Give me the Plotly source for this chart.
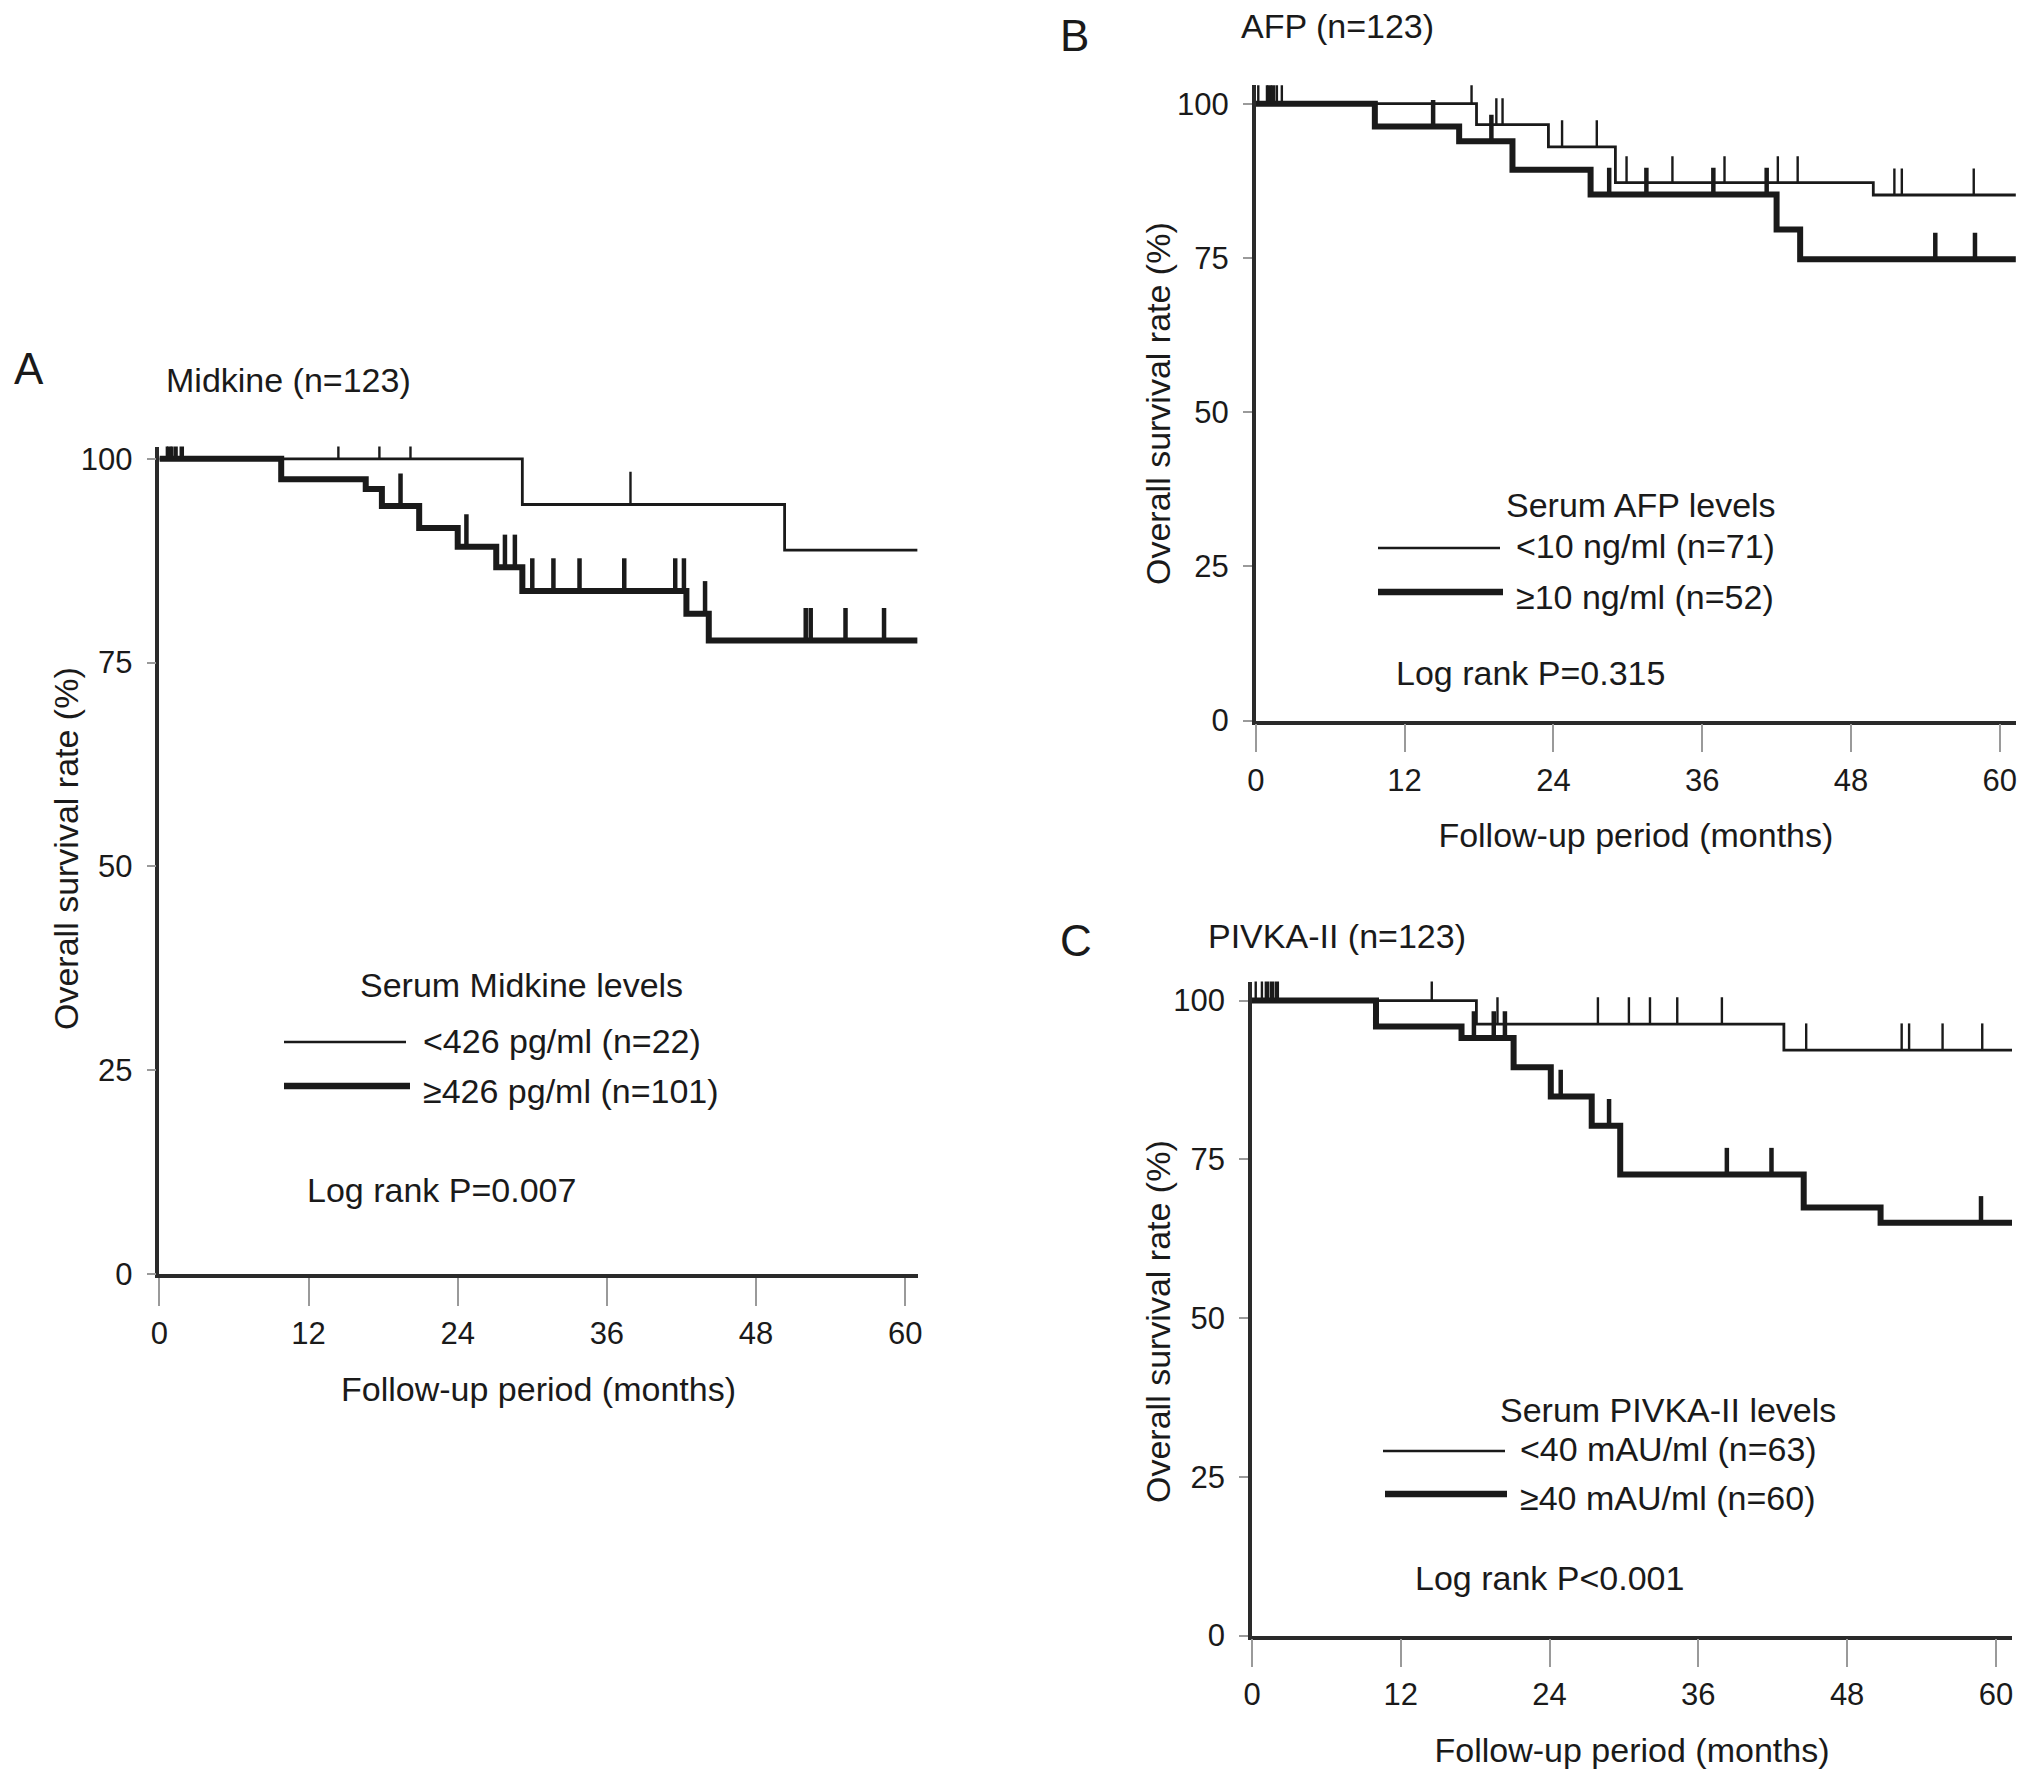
import plotly.graph_objects as go

W, H = 2032, 1771
OFF = 8  # page body margin in the browser

# ------------------------------------------
# Data (months, survival %)
# ------------------------------------------
# A - Midkine
a_low_t = [0, 29.2, 50.3, 61.0]
a_low_s = [100, 94.4, 88.8, 88.8]
a_low_cens = [0.6, 1.0, 14.4, 17.7, 20.2, 37.9]
a_high_t = [0, 9.8, 16.6, 17.9, 20.9, 24.0, 27.1, 29.2, 42.4, 44.2, 61.0]
a_high_s = [100, 97.5, 96.3, 94.2, 91.5, 89.2, 86.7, 83.8, 81.0, 77.7, 77.7]
a_high_cens = [0.8, 1.3, 1.8, 19.4, 24.7, 27.8, 28.6, 30.0, 31.7, 33.8, 37.4,
               41.5, 42.2, 43.9, 52.0, 52.4, 55.2, 58.3]

# B - AFP
b_low_t = [0, 17.8, 23.6, 29.0, 49.8, 61.3]
b_low_s = [100, 96.6, 93.0, 87.2, 85.2, 85.2]
b_low_cens = [0.2, 0.9, 1.7, 2.1, 17.4, 19.4, 19.9, 24.7, 27.5, 29.9, 33.6,
              37.8, 42.1, 43.7, 51.5, 52.1, 57.9]
b_high_t = [0, 9.6, 16.4, 20.7, 27.0, 42.0, 43.9, 61.3]
b_high_s = [100, 96.3, 93.9, 89.3, 85.3, 79.6, 74.8, 74.8]
b_high_cens = [1.1, 1.4, 14.3, 19.0, 28.5, 31.5, 36.9, 41.2, 54.8, 58.0]

# C - PIVKA-II
c_low_t = [0, 18.1, 42.9, 61.3]
c_low_s = [100, 96.3, 92.2, 92.2]
c_low_cens = [0.3, 0.8, 14.5, 19.8, 27.9, 30.4, 32.1, 34.3, 37.9, 44.7,
              52.4, 53.0, 55.7, 58.9]
c_high_t = [0, 10.0, 16.9, 21.1, 24.1, 27.4, 29.7, 44.5, 50.7, 61.3]
c_high_s = [100, 95.9, 94.1, 89.5, 84.9, 80.3, 72.6, 67.4, 65.0, 65.0]
c_high_cens = [1.2, 1.6, 2.0, 17.9, 19.5, 20.4, 24.9, 28.8, 38.3, 41.9, 58.8]

x_ticks = [0, 12, 24, 36, 48, 60]
y_ticks = [0, 25, 50, 75, 100]

FONT = "Liberation Sans"
INK = "#1a1a1a"


def px(x):
    return (x - OFF) / W


def py(y):
    return 1 - (y - OFF) / H


def level_at(t, times, surv):
    s = surv[0]
    for ti, si in zip(times, surv):
        if ti <= t:
            s = si
    return s


def cens_xy(cens, times, surv, h):
    xs, ys = [], []
    for t in cens:
        s = level_at(t, times, surv)
        xs += [t, t, None]
        ys += [s, s + h, None]
    return xs, ys


panels = [
    # key, low, high, xmax, ytop, tick height, x domain px, y domain px
    ("", (a_low_t, a_low_s, a_low_cens), (a_high_t, a_high_s, a_high_cens),
     61.0, 101.5, 4.0, (159.4, 917.6), (1274, 446.6)),
    ("2", (b_low_t, b_low_s, b_low_cens), (b_high_t, b_high_s, b_high_cens),
     61.3, 103, 4.3, (1255.8, 2015.9), (720.6, 85.2)),
    ("3", (c_low_t, c_low_s, c_low_cens), (c_high_t, c_high_s, c_high_cens),
     61.3, 103, 4.2, (1252, 2012), (1635.5, 981.5)),
]

fig = go.Figure()
layout_axes = {}

for key, low, high, xmax, ytop, th, xd, yd in panels:
    xa, ya = "x" + key, "y" + key
    for (t, s, c), lw, cw in [(low, 2.8, 2.4), (high, 6.0, 4.5)]:
        fig.add_trace(go.Scatter(
            x=t, y=s, mode="lines", line=dict(color=INK, width=lw, shape="hv"),
            xaxis=xa, yaxis=ya, hoverinfo="skip"
        ))
        cx, cy = cens_xy(c, t, s, th)
        fig.add_trace(go.Scatter(
            x=cx, y=cy, mode="lines", line=dict(color=INK, width=cw),
            xaxis=xa, yaxis=ya, hoverinfo="skip"
        ))

    layout_axes["xaxis" + key] = dict(
        domain=[px(xd[0]), px(xd[1])], range=[0, xmax], anchor=ya, automargin=False,
        tickvals=x_ticks, ticks="outside", ticklen=28, tickwidth=2, tickcolor="#9a9a9a",
        showline=True, linecolor="#2a2a2a", linewidth=3.5,
        showgrid=False, zeroline=False, ticklabelstandoff=1,
        tickfont=dict(family=FONT, size=31, color=INK),
        title=dict(text="Follow-up period (months)", standoff=28,
                   font=dict(family=FONT, size=34, color=INK)),
    )
    layout_axes["yaxis" + key] = dict(
        domain=[py(yd[0]), py(yd[1])], range=[0, ytop], anchor=xa, automargin=False,
        tickvals=y_ticks, ticks="outside", ticklen=9, tickwidth=2, tickcolor="#9a9a9a",
        showline=True, linecolor="#2a2a2a", linewidth=3.5,
        showgrid=False, zeroline=False, ticklabelstandoff=8,
        tickfont=dict(family=FONT, size=31, color=INK),
    )

fig.update_layout(**layout_axes)


def text(x, y, s, size=34, anchor="center", angle=0):
    fig.add_annotation(x=px(x), y=py(y), xref="paper", yref="paper", text=s,
                       showarrow=False, xanchor=anchor, yanchor="middle",
                       textangle=angle,
                       font=dict(family=FONT, size=size, color=INK))


def key_line(x0, x1, y, w):
    fig.add_shape(type="line", xref="paper", yref="paper",
                  x0=px(x0), x1=px(x1), y0=py(y), y1=py(y),
                  line=dict(color=INK, width=w))


Y_TITLE = "Overall survival rate (%)"

# Panel A texts
text(28.5, 369, "A", size=44)
text(288, 380, "Midkine (n=123)")
text(66, 849, Y_TITLE, angle=-90)
text(521, 985, "Serum Midkine levels")
key_line(284, 406, 1042, 2.6)
text(421, 1041, "<426 pg/ml (n=22)", anchor="left")
key_line(284, 410, 1086, 6.5)
text(421, 1091, "≥426 pg/ml (n=101)", anchor="left")
text(305, 1190, "Log rank P=0.007", anchor="left")

# Panel B texts
text(1074, 35, "B", size=44)
text(1337, 26, "AFP (n=123)")
text(1158, 404, Y_TITLE, angle=-90)
text(1641, 505, "Serum AFP levels")
key_line(1378, 1500, 548, 2.6)
text(1514, 546, "<10 ng/ml (n=71)", anchor="left")
key_line(1378, 1503, 592, 6.5)
text(1514, 597, "≥10 ng/ml (n=52)", anchor="left")
text(1394, 673, "Log rank P=0.315", anchor="left")

# Panel C texts
text(1076, 940, "C", size=44)
text(1337, 936, "PIVKA-II (n=123)")
text(1158, 1322, Y_TITLE, angle=-90)
text(1668, 1410, "Serum PIVKA-II levels")
key_line(1383, 1505, 1451, 2.6)
text(1518, 1449, "<40 mAU/ml (n=63)", anchor="left")
key_line(1385, 1507, 1494, 6.5)
text(1518, 1498, "≥40 mAU/ml (n=60)", anchor="left")
text(1413, 1578, "Log rank P<0.001", anchor="left")

fig.update_layout(
    width=W, height=H,
    margin=dict(l=0, r=0, t=0, b=0, autoexpand=False),
    paper_bgcolor="white", plot_bgcolor="white",
    showlegend=False,
    font=dict(family=FONT, color=INK),
)

fig.write_html("out.html")
